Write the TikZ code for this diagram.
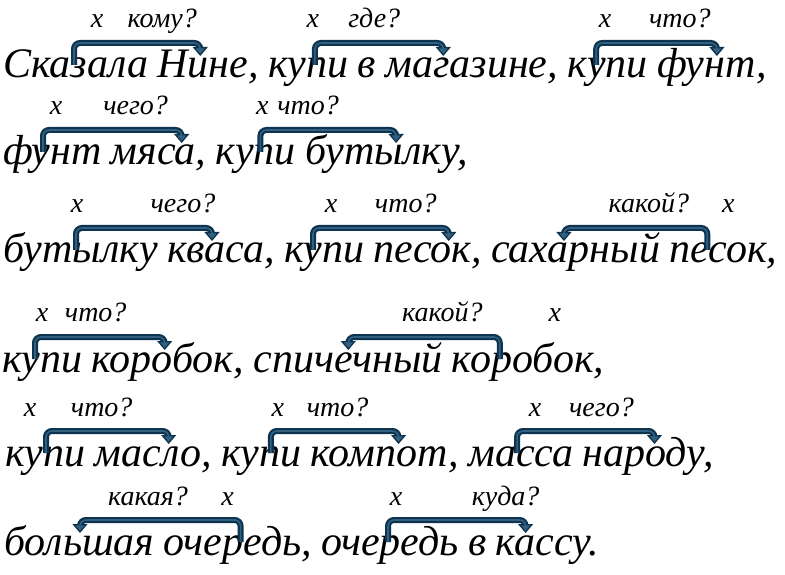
\documentclass[tikz,border=0pt]{standalone}
\usepackage{fontspec}
\setmainfont{Liberation Serif}
\usetikzlibrary{positioning,arrows.meta}

\definecolor{linkdark}{HTML}{0C3350}
\definecolor{linklight}{HTML}{33607F}

\begin{document}
\begin{tikzpicture}[x=1pt,y=1pt,node distance=9pt,
    word/.style={inner sep=0pt,text height=30pt,text depth=10pt,
      font=\fontsize{42}{48}\selectfont\itshape},
    ask/.style={inner sep=0pt,anchor=base,font=\fontsize{28}{32}\selectfont\itshape},
    link/.style={draw=linkdark,line width=6pt,rounded corners=6pt,
      -{Triangle[width=15pt,length=9pt,fill=linklight,line width=1.3pt]},
      postaction={draw=linklight,line width=1.6pt,-,shorten >=8pt}},
    bracket/.style={to path={-- ++(0,#1) -| (\tikztotarget)}},
    bracket/.default=22]

    \useasboundingbox (0,0) rectangle (785,574);

    % Line 1
    \node[word,anchor=base west] (a1) at (3,496) {Сказала};
    \node[word] (a2) [right=of a1] {Нине,};
    \node[word] (a3) [right=of a2] {купи};
    \node[word] (a4) [right=of a3] {в};
    \node[word] (a5) [right=of a4] {магазине,};
    \node[word] (a6) [right=of a5] {купи};
    \node[word] (a7) [right=of a6] {фунт,};

    % Line 2
    \node[word,anchor=base west] (b1) at (3,409) {фунт};
    \node[word] (b2) [right=of b1] {мяса,};
    \node[word] (b3) [right=of b2] {купи};
    \node[word] (b4) [right=of b3] {бутылку,};

    % Line 3
    \node[word,anchor=base west] (c1) at (3,311) {бутылку};
    \node[word] (c2) [right=of c1] {кваса,};
    \node[word] (c3) [right=of c2] {купи};
    \node[word] (c4) [right=of c3] {песок,};
    \node[word] (c5) [right=of c4] {сахарный};
    \node[word] (c6) [right=of c5] {песок,};

    % Line 4
    \node[word,anchor=base west] (d1) at (2,202) {купи};
    \node[word] (d2) [right=of d1] {коробок,};
    \node[word] (d3) [right=of d2] {спичечный};
    \node[word] (d4) [right=of d3] {коробок,};

    % Line 5
    \node[word,anchor=base west] (e1) at (5,108) {купи};
    \node[word] (e2) [right=of e1] {масло,};
    \node[word] (e3) [right=of e2] {купи};
    \node[word] (e4) [right=of e3] {компот,};
    \node[word] (e5) [right=of e4] {масса};
    \node[word] (e6) [right=of e5] {народу,};

    % Line 6
    \node[word,anchor=base west] (f1) at (4,19) {большая};
    \node[word] (f2) [right=of f1] {очередь,};
    \node[word] (f3) [right=of f2] {очередь};
    \node[word] (f4) [right=of f3] {в};
    \node[word] (f5) [right=of f4] {кассу.};

    % Questions
    \node[ask] (a1q) at ([shift={(94,50)}]a1.base west) {x};
    \node[ask] (a2q) at ([shift={(5,50)}]a2.base west) {кому?};
    \node[ask] (a3q) at ([shift={(45,50)}]a3.base west) {x};
    \node[ask] (a5q) at ([shift={(-11,50)}]a5.base west) {где?};
    \node[ask] (a6q) at ([shift={(38,50)}]a6.base west) {x};
    \node[ask] (a7q) at ([shift={(23,50)}]a7.base west) {что?};
    \node[ask] (b1q) at ([shift={(53,50)}]b1.base west) {x};
    \node[ask] (b2q) at ([shift={(25,50)}]b2.base west) {чего?};
    \node[ask] (b3q) at ([shift={(47,50)}]b3.base west) {x};
    \node[ask] (b4q) at ([shift={(3,50)}]b4.base west) {что?};
    \node[ask] (c1q) at ([shift={(74,50)}]c1.base west) {x};
    \node[ask] (c2q) at ([shift={(16,50)}]c2.base west) {чего?};
    \node[ask] (c3q) at ([shift={(47,50)}]c3.base west) {x};
    \node[ask] (c4q) at ([shift={(32,50)}]c4.base west) {что?};
    \node[ask] (c5q) at ([shift={(158,50)}]c5.base west) {какой?};
    \node[ask] (c6q) at ([shift={(59,50)}]c6.base west) {x};
    \node[ask] (d1q) at ([shift={(40,50)}]d1.base west) {x};
    \node[ask] (d2q) at ([shift={(4,50)}]d2.base west) {что?};
    \node[ask] (d3q) at ([shift={(189,50)}]d3.base west) {какой?};
    \node[ask] (d4q) at ([shift={(103,50)}]d4.base west) {x};
    \node[ask] (e1q) at ([shift={(25,50)}]e1.base west) {x};
    \node[ask] (e2q) at ([shift={(7,50)}]e2.base west) {что?};
    \node[ask] (e3q) at ([shift={(57,50)}]e3.base west) {x};
    \node[ask] (e4q) at ([shift={(27,50)}]e4.base west) {что?};
    \node[ask] (e5q) at ([shift={(67,50)}]e5.base west) {x};
    \node[ask] (e6q) at ([shift={(19,50)}]e6.base west) {чего?};
    \node[ask] (f1q) at ([shift={(144,50)}]f1.base west) {какая?};
    \node[ask] (f2q) at ([shift={(64,50)}]f2.base west) {x};
    \node[ask] (f3q) at ([shift={(75,50)}]f3.base west) {x};
    \node[ask] (f5q) at ([shift={(10,50)}]f5.base west) {куда?};

    % Links
    \draw[link] ([shift={(71,13)}]a1.base west) to[bracket] ([shift={(43,22)}]a2.base west);
    \draw[link] ([shift={(47,13)}]a3.base west) to[bracket] ([shift={(58,22)}]a5.base west);
    \draw[link] ([shift={(29,13)}]a6.base west) to[bracket] ([shift={(60,22)}]a7.base west);
    \draw[link] ([shift={(40,13)}]b1.base west) to[bracket] ([shift={(71,22)}]b2.base west);
    \draw[link] ([shift={(45,13)}]b3.base west) to[bracket] ([shift={(91,22)}]b4.base west);
    \draw[link] ([shift={(73,13)}]c1.base west) to[bracket] ([shift={(45,22)}]c2.base west);
    \draw[link] ([shift={(29,13)}]c3.base west) to[bracket] ([shift={(75,22)}]c4.base west);
    \draw[link] ([shift={(38,13)}]c6.base west) to[bracket] ([shift={(73,22)}]c5.base west);
    \draw[link] ([shift={(33,13)}]d1.base west) to[bracket] ([shift={(73,22)}]d2.base west);
    \draw[link] ([shift={(48,13)}]d4.base west) to[bracket] ([shift={(95,22)}]d3.base west);
    \draw[link] ([shift={(41,13)}]e1.base west) to[bracket] ([shift={(74,22)}]e2.base west);
    \draw[link] ([shift={(50,13)}]e3.base west) to[bracket] ([shift={(88,22)}]e4.base west);
    \draw[link] ([shift={(49,13)}]e5.base west) to[bracket] ([shift={(72,22)}]e6.base west);
    \draw[link] ([shift={(77,13)}]f2.base west) to[bracket] ([shift={(76,22)}]f1.base west);
    \draw[link] ([shift={(67,13)}]f3.base west) to[bracket] ([shift={(30,22)}]f5.base west);
\end{tikzpicture}
\end{document}
